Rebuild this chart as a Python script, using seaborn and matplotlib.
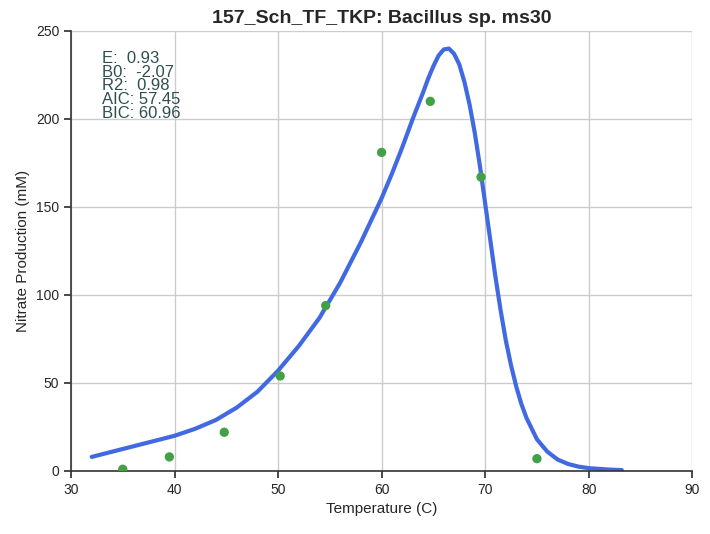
import matplotlib
matplotlib.use("Agg")
import matplotlib.pyplot as plt
import seaborn as sns

temp_obs = [35.0, 39.5, 44.8, 50.2, 54.6, 60.0, 64.7, 69.6, 75.0]
rate_obs = [1, 8, 22, 54, 94, 181, 210, 167, 7]

temp_fit = [32, 34, 36, 38, 40, 42, 44, 46, 48, 50, 52, 54, 56, 58, 60, 61, 62, 63, 64,
            64.5, 65, 65.5, 66, 66.5, 67, 67.5, 68, 68.5, 69, 69.5, 70, 70.5, 71, 71.5,
            72, 72.5, 73, 73.5, 74, 75, 76, 77, 78, 79, 80, 82, 83.2]
rate_fit = [8, 11, 14, 17, 20, 24, 29, 36, 45, 57, 71, 87, 107, 130, 155, 169, 184, 200, 215,
            223, 230, 236, 239.5, 240, 237, 231, 221, 208, 192, 173, 152, 131, 110, 91,
            74, 60, 48, 38, 30, 18, 11, 6.5, 4, 2.5, 1.6, 0.8, 0.5]

stats = ["E:  0.93", "B0:  -2.07", "R2:  0.98", "AIC: 57.45", "BIC: 60.96"]

sns.set_theme(style="whitegrid")
plt.rcParams["font.family"] = ["Liberation Sans", "DejaVu Sans"]

fig, ax = plt.subplots(figsize=(7.1, 5.34), dpi=100)
sns.lineplot(x=temp_fit, y=rate_fit, ax=ax, color="#4169e1", linewidth=3, sort=False)
sns.scatterplot(x=temp_obs, y=rate_obs, ax=ax, color="#43a047", s=45, edgecolor="none", zorder=3)

ax.set_xlim(30, 90)
ax.set_ylim(0, 250)
ax.set_xticks(range(30, 91, 10))
ax.set_yticks(range(0, 251, 50))
ax.set_xlabel("Temperature (C)", fontsize=11)
ax.set_ylabel("Nitrate Production (mM)", fontsize=11)
ax.set_title("157_Sch_TF_TKP: Bacillus sp. ms30", fontsize=14, fontweight="bold")
ax.tick_params(labelsize=10, length=5, color="#333333", direction="out", bottom=True, left=True)
for side in ["top", "right"]:
    ax.spines[side].set_visible(False)
for side in ["left", "bottom"]:
    ax.spines[side].set_color("#333333")
    ax.spines[side].set_linewidth(1.2)
ax.set_facecolor("white")

ax.text(0.05, 0.955, "\n".join(stats), transform=ax.transAxes, va="top", ha="left",
        fontsize=12, color="#2f4f4f", linespacing=0.9)

fig.subplots_adjust(left=0.1, right=0.975, bottom=0.118, top=0.942)
fig.savefig("out.png", dpi=100)
